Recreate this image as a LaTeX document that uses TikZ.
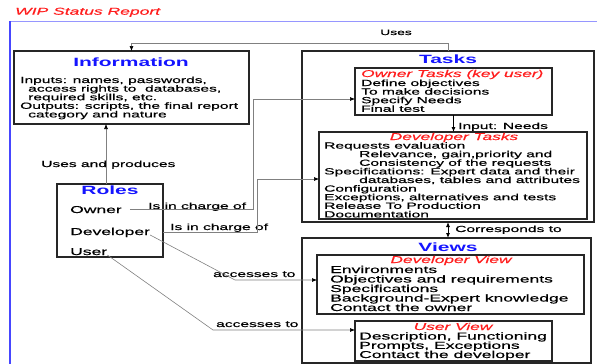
\documentclass[tikz,border=0pt]{standalone}
\usepackage{fontspec}
\setmainfont{Liberation Sans}[FakeStretch=1.75,UprightFeatures={FakeBold=0.6},ItalicFeatures={FakeBold=0.6}]
\usetikzlibrary{arrows.meta}
\definecolor{titleblue}{RGB}{20,20,255}
\definecolor{subred}{RGB}{255,30,30}
\definecolor{frameblue}{RGB}{70,70,255}
\definecolor{lightblue}{RGB}{150,150,255}
\newcommand\myfs[1]{\fontsize{#1}{#1}\selectfont}
\tikzset{
  box/.style={draw=black!85, line width=1.1pt, anchor=north west, inner sep=0pt, outer sep=0pt},
  txt/.style={anchor=base west, inner sep=0pt, font=\myfs{8.9}},
  big/.style={anchor=base west, inner sep=0pt, font=\myfs{10}},
  lbl/.style={anchor=base west, inner sep=0pt, font=\myfs{8.9}},
  ttl/.style={anchor=base, inner sep=0pt, font=\bfseries\myfs{12}, text=titleblue},
  sub/.style={anchor=base, inner sep=0pt, font=\itshape\myfs{9.9}, text=subred},
  conn/.style={draw=black!50, line width=0.6pt},
  dark/.style={draw=black, line width=0.8pt},
  tip/.style={-{Latex[length=5pt,width=4pt,color=black]}},
  tips/.style={{Latex[length=5pt,width=4pt,color=black]}-{Latex[length=5pt,width=4pt,color=black]}},
}
\begin{document}
\begin{tikzpicture}[x=1pt,y=-1pt]
\useasboundingbox (0,0) rectangle (597,364);
\clip (0,0) rectangle (597,364);
% frame
\draw[lightblue, line width=0.8pt] (10,21) -- (597,21);
\draw[frameblue, line width=1.6pt] (10,21) -- (10,364);
\node[anchor=base west, inner sep=0pt, font=\itshape\myfs{10}, text=subred] (wip) at (15,14.7) {WIP Status Report};

% Information
\node[box, minimum width=235pt, minimum height=73pt] (info) at (14,51) {};
\node[ttl] (infot) at (131,66) {Information};
\node[txt] (inf1) at (20,83) {Inputs: names, passwords,};
\node[txt] (inf2) at (28,91.6) {access rights to~ databases,};
\node[txt] (inf3) at (28,100.2) {required skills, etc.};
\node[txt] (inf4) at (20,108.8) {Outputs: scripts, the final report};
\node[txt] (inf5) at (28,117.4) {category and nature};

% Tasks
\node[box, minimum width=292pt, minimum height=171pt] (tasks) at (302,51) {};
\node[ttl] (taskst) at (448,63) {Tasks};
\node[box, minimum width=197pt, minimum height=47pt] (otbox) at (355,68) {};
\node[anchor=base west, inner sep=0pt, font=\itshape\myfs{9.9}, text=subred] (ott) at (361,77) {Owner Tasks (key user)};
\node[txt] (ot1) at (361,86) {Define objectives};
\node[txt] (ot2) at (361,94.6) {To make decisions};
\node[txt] (ot3) at (361,103.2) {Specify Needs};
\node[txt] (ot4) at (361,111.8) {Final test};

\node[box, minimum width=268pt, minimum height=87pt] (dtbox) at (319,132) {};
\node[sub] (dtt) at (454,140) {Developer Tasks};
\node[txt] (dt1) at (324,148.6) {Requests evaluation};
\node[txt] (dt2) at (359,157.2) {Relevance, gain,priority and};
\node[txt] (dt3) at (359,165.8) {Consistency of the requests};
\node[txt] (dt4) at (324,174.4) {Specifications: Expert data and their};
\node[txt] (dt5) at (359,183) {databases, tables and attributes};
\node[txt] (dt6) at (324,191.6) {Configuration};
\node[txt] (dt7) at (324,200.2) {Exceptions, alternatives and tests};
\node[txt] (dt8) at (324,208.8) {Release To Production};
\node[txt] (dt9) at (324,217.4) {Documentation};

% Views
\node[box, minimum width=289pt, minimum height=125pt] (views) at (302,238) {};
\node[ttl] (viewst) at (448,251) {Views};
\node[box, minimum width=267pt, minimum height=59pt] (dvbox) at (317,255) {};
\node[sub] (dvt) at (451,263) {Developer View};
\node[big] (dv1) at (330,273) {Environments};
\node[big] (dv2) at (330,282.5) {Objectives and requirements};
\node[big] (dv3) at (330,292) {Specifications};
\node[big] (dv4) at (330,301.5) {Background-Expert knowledge};
\node[big] (dv5) at (330,311) {Contact the owner};
\node[box, minimum width=197pt, minimum height=40pt] (uvbox) at (355,321) {};
\node[sub] (uvt) at (453,330) {User View};
\node[big] (uv1) at (359,339.5) {Description, Functioning};
\node[big] (uv2) at (359,348.8) {Prompts, Exceptions};
\node[big] (uv3) at (359,358) {Contact the developer};

% Roles
\node[box, minimum width=106pt, minimum height=73pt] (roles) at (57,184) {};
\node[ttl] (rolest) at (110,194) {Roles};
\node[big] (owner) at (70,213) {Owner};
\node[big] (dev) at (70,235) {Developer};
\node[big] (user) at (70,255) {User};

% labels
\node[anchor=base, inner sep=0pt, font=\myfs{7.9}] (uses) at (396,35) {Uses};
\node[lbl] (usesp) at (41,167) {Uses and produces};
\node[lbl] (charge1) at (148,209) {Is in charge of};
\node[lbl] (charge2) at (170,230) {Is in charge of};
\node[lbl] (acc1) at (213,277) {accesses to};
\node[lbl] (acc2) at (216,327) {accesses to};
\node[lbl] (needs) at (458,129) {Input: Needs};
\node[lbl] (corr) at (455,232) {Corresponds to};

% connectors
\coordinate (cu) at (131.5,43);
\draw[conn, tip] (tasks.north) |- (cu) -- (info.north);
\draw[conn, tip] ([xshift=-4pt]roles.north) -- ([xshift=-4pt]roles.north |- info.south);
\coordinate (c1) at (253,99);
\draw[conn, tip] ([xshift=8pt]owner.east) -| (c1) -- (c1 -| otbox.west);
\coordinate (c2) at (257,179);
\draw[conn, tip] (roles.east |- dev.east) -| (c2) -- (c2 -| dtbox.west);
\coordinate (c3) at (235,280);
\draw[conn, tip] (dev.base east) -- (c3) -- (c3 -| dvbox.west);
\coordinate (c4) at (213,330);
\draw[conn, tip] (user.base east) -- (c4) -- (c4 -| uvbox.west);
\draw[dark, tip] (otbox.south) -- (otbox.south |- dtbox.north);
\draw[dark, tips] (tasks.south) -- (tasks.south |- views.north);
\end{tikzpicture}
\end{document}
